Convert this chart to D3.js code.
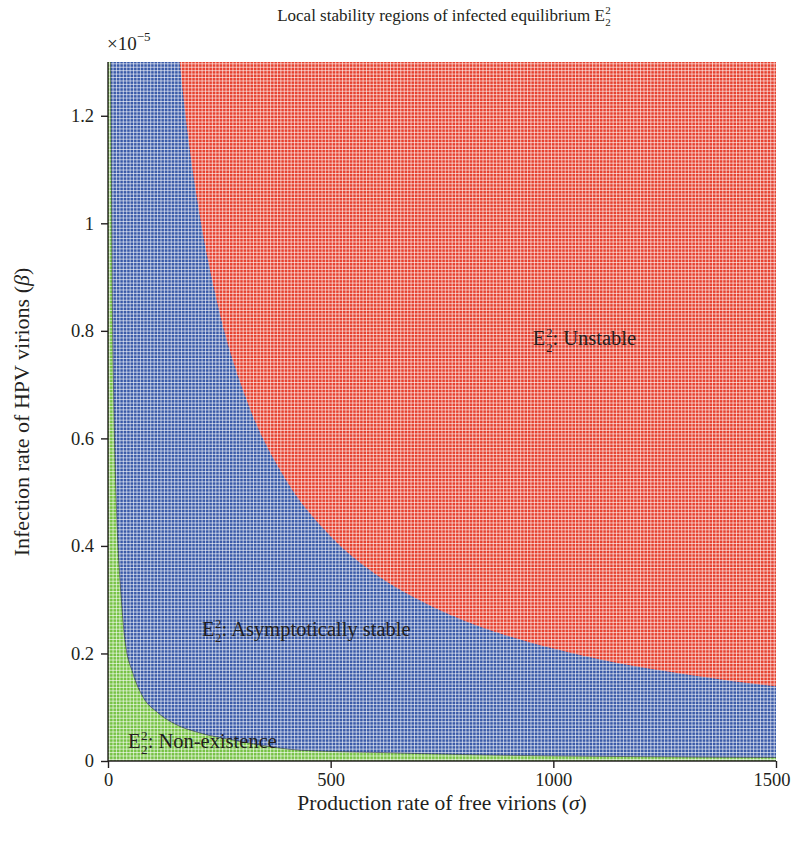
<!DOCTYPE html>
<html>
<head>
<meta charset="utf-8">
<script src="https://cdn.jsdelivr.net/npm/d3@7"></script>
<style>
  body { margin: 0; background: #fff; }
  text { font-family: "Liberation Serif", "DejaVu Serif", serif; fill: #231f20; }
</style>
</head>
<body>
<svg id="chart" width="792" height="845"></svg>
<script>
// Axis ticks (beta in units of 1e-5)
const xTicks = [0, 500, 1000, 1500];
const yTicks = [0, 0.2, 0.4, 0.6, 0.8, 1, 1.2];

// Existence boundary of E2^2: below it the equilibrium does not exist
const existSigma = [0, 6, 7.5, 9.7, 13.5, 20.9, 28.5, 38, 56, 78.6, 110, 146, 207, 281, 386, 431, 600, 800, 1000, 1200, 1500];
const existBeta  = [1.30, 1.30, 1.10, 0.856, 0.646, 0.429, 0.318, 0.225, 0.163, 0.119, 0.091, 0.0706, 0.052, 0.039, 0.024, 0.020, 0.016, 0.012, 0.0095, 0.008, 0.0065];

// Stability boundary of E2^2: above it the equilibrium is unstable
const stableSigma = [161, 180, 200, 250, 312, 400, 500, 600, 700, 800, 900, 1000, 1105, 1200, 1300, 1400, 1500];
const stableBeta  = [1.30, 1.16, 1.045, 0.836, 0.67, 0.522, 0.418, 0.348, 0.299, 0.261, 0.232, 0.209, 0.189, 0.174, 0.161, 0.149, 0.139];

const colors = { exist: "#76c244", stable: "#3a5aa8", unstable: "#e6412f" };

const svg = d3.select("#chart");
const m = { left: 108, right: 776, top: 62, bottom: 761 };

const x = d3.scaleLinear().domain([0, 1500]).range([m.left, m.right]);
const y = d3.scaleLinear().domain([0, 1.3]).range([m.bottom, m.top]);

svg.append("defs").append("clipPath").attr("id", "plotClip")
  .append("rect").attr("x", m.left).attr("y", m.top)
  .attr("width", m.right - m.left).attr("height", m.bottom - m.top);

const plot = svg.append("g").attr("clip-path", "url(#plotClip)");

// Asymptotically stable region (whole domain, covered below by the others)
plot.append("rect")
  .attr("x", x(0)).attr("y", y(1.3))
  .attr("width", x(1500) - x(0)).attr("height", y(0) - y(1.3))
  .attr("fill", colors.stable);

// Unstable region
const stablePts = stableSigma.map((s, i) => [s, stableBeta[i]]);
plot.append("path")
  .datum(stablePts)
  .attr("fill", colors.unstable)
  .attr("d", d3.area().curve(d3.curveMonotoneX)
    .x(d => x(d[0])).y0(y(1.3)).y1(d => y(d[1])));

// Non-existence region
const existPts = existSigma.map((s, i) => [s, existBeta[i]]);
plot.append("path")
  .datum(existPts)
  .attr("fill", colors.exist)
  .attr("d", d3.area().curve(d3.curveMonotoneX)
    .x(d => x(d[0])).y0(y(0)).y1(d => y(d[1])));

// Sampling grid texture
const colStep = 1500 / 195, rowStep = 1.3 / 204;
const grid = plot.append("g").attr("stroke", "#fff").attr("stroke-opacity", 0.62).attr("stroke-width", 1);
grid.selectAll("line.v").data(d3.range(0, 1500 + 1e-9, colStep)).join("line")
  .attr("x1", d => x(d) + 1.6).attr("x2", d => x(d) + 1.6)
  .attr("y1", m.top).attr("y2", m.bottom);
grid.selectAll("line.h").data(d3.range(0, 1.3 + 1e-9, rowStep)).join("line")
  .attr("y1", d => y(d) - 1.6).attr("y2", d => y(d) - 1.6)
  .attr("x1", m.left).attr("x2", m.right);

// Existence boundary curve
plot.append("path")
  .datum(existPts.slice(1))
  .attr("fill", "none").attr("stroke", "#2b2b3a").attr("stroke-opacity", 0.7).attr("stroke-width", 0.8)
  .attr("d", d3.line().curve(d3.curveMonotoneX).x(d => x(d[0])).y(d => y(d[1])));

// Axes
const xAxis = svg.append("g").attr("transform", `translate(0,${m.bottom})`)
  .call(d3.axisBottom(x).tickValues(xTicks).tickSizeOuter(0).tickSize(7).tickPadding(5).tickFormat(d3.format("d")));
const yAxis = svg.append("g").attr("transform", `translate(${m.left},0)`)
  .call(d3.axisLeft(y).tickValues(yTicks).tickSizeOuter(0).tickSize(7).tickPadding(7).tickFormat(d3.format("~g")));
[xAxis, yAxis].forEach(a => {
  a.select(".domain").attr("stroke", "#231f20").attr("stroke-width", 1.4);
  a.selectAll(".tick line").attr("stroke", "#231f20").attr("stroke-width", 1.4);
  a.selectAll(".tick text").style("font-size", "18.5px").attr("fill", "#231f20")
    .style("font-family", "'Liberation Serif', serif");
});
// keep the last x label inside the page
xAxis.selectAll(".tick text").filter(d => d === 1500).attr("text-anchor", "end").attr("x", 14);
yAxis.select(".domain").attr("d", `M0,${y(0)}V${y(1.3)}`);
xAxis.select(".domain").attr("d", `M${x(0)},0H${x(1500)}`);

// Exponent marker
const expo = svg.append("text").attr("x", m.left - 1).attr("y", 50).style("font-size", "19px");
expo.append("tspan").text("×10");
expo.append("tspan").attr("dy", -9).style("font-size", "13px").text("−5");

// "E" with stacked superscript and subscript 2, followed by a caption
function eqLabel(g, px, py, fs, rest) {
  const grp = g.append("g");
  const e = grp.append("text").attr("x", px).attr("y", py).style("font-size", fs + "px").text("E");
  const ew = e.node().getComputedTextLength();
  const small = fs * 0.64;
  grp.append("text").attr("x", px + ew + 0.5).attr("y", py - fs * 0.40).style("font-size", small + "px").text("2");
  grp.append("text").attr("x", px + ew + 0.5).attr("y", py + fs * 0.30).style("font-size", small + "px").text("2");
  grp.append("text").attr("x", px + ew + small * 0.5 + 0.5).attr("y", py).style("font-size", fs + "px").text(rest);
  return grp;
}

// Title
const title = svg.append("text").attr("x", 441).attr("y", 21).attr("text-anchor", "middle").style("font-size", "17px");
title.append("tspan").text("Local stability regions of infected equilibrium E");
const tBox = title.node().getBBox();
svg.append("text").attr("x", tBox.x + tBox.width + 0.5).attr("y", 14).style("font-size", "11px").text("2");
svg.append("text").attr("x", tBox.x + tBox.width + 0.5).attr("y", 26).style("font-size", "11px").text("2");

// Axis titles
const xt = svg.append("text").attr("x", 442).attr("y", 810).attr("text-anchor", "middle").style("font-size", "21.5px");
xt.append("tspan").text("Production rate of free virions (");
xt.append("tspan").style("font-style", "italic").text("σ");
xt.append("tspan").text(")");

const yt = svg.append("text").attr("transform", `translate(29,${412}) rotate(-90)`)
  .attr("text-anchor", "middle").style("font-size", "22px");
yt.append("tspan").text("Infection rate of HPV virions (");
yt.append("tspan").style("font-style", "italic").text("β");
yt.append("tspan").text(")");

// Region labels
eqLabel(svg, x(954), y(0.773), 20.5, ": Unstable");
eqLabel(svg, x(211), y(0.232), 20.5, ": Asymptotically stable");
eqLabel(svg, x(45), y(0.024), 20.5, ": Non-existence");
</script>
</body>
</html>
